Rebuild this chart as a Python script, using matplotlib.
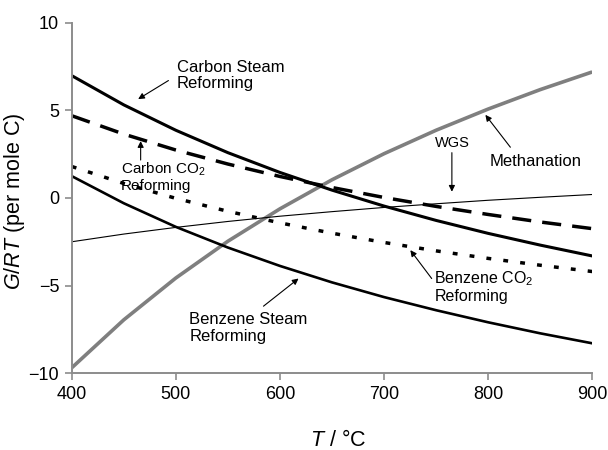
import numpy as np
import matplotlib
matplotlib.use('Agg')
import matplotlib.pyplot as plt

plt.rcParams['font.family'] = ['Liberation Sans', 'DejaVu Sans']
plt.rcParams['mathtext.fontset'] = 'custom'
plt.rcParams['mathtext.rm'] = 'Liberation Sans'
plt.rcParams['mathtext.it'] = 'Liberation Sans:italic'

# temperature in deg C
temps = [400, 450, 500, 550, 600, 650, 700, 750, 800, 850, 900]

# G/RT (per mole C)
carbon_steam = [6.99, 5.32, 3.87, 2.59, 1.46, 0.45, -0.46, -1.28, -2.02, -2.69, -3.31]
carbon_co2 = [4.70, 3.65, 2.74, 1.94, 1.23, 0.60, 0.03, -0.48, -0.94, -1.37, -1.75]
benzene_co2 = [1.80, 0.83, -0.02, -0.76, -1.42, -2.01, -2.54, -3.02, -3.45, -3.84, -4.20]
benzene_steam = [1.25, -0.30, -1.65, -2.83, -3.88, -4.82, -5.66, -6.41, -7.10, -7.73, -8.30]
wgs = [-2.50, -2.06, -1.68, -1.34, -1.04, -0.78, -0.54, -0.33, -0.13, 0.04, 0.20]
methanation = [-9.70, -6.96, -4.57, -2.47, -0.62, 1.04, 2.53, 3.87, 5.08, 6.19, 7.20]

fig = plt.figure(figsize=(6.08, 4.5), dpi=100)
ax = fig.add_axes([0.118, 0.171, 0.856, 0.778])

ax.plot(temps, methanation, color='#7f7f7f', lw=2.6, solid_capstyle='butt')
ax.plot(temps, wgs, color='black', lw=0.8)
ax.plot(temps, carbon_steam, color='black', lw=2.2)
ax.plot(temps, benzene_steam, color='black', lw=1.9)
ax.plot(temps, carbon_co2, color='black', lw=2.5, dashes=(5.5, 3.2))
ax.plot(temps, benzene_co2, color='black', lw=2.5, dashes=(1.4, 3.5), dash_capstyle='butt')

arrow = dict(arrowstyle='-|>', color='black', lw=0.8, mutation_scale=9, shrinkA=0, shrinkB=0)

ax.text(501, 7.0, 'Carbon Steam\nReforming', fontsize=12, ha='left', va='center', linespacing=1.15)
ax.annotate('', xy=(463.8, 5.65), xytext=(492.9, 6.71), arrowprops=arrow)

ax.text(447, 1.2, 'Carbon CO$_2$\nReforming', fontsize=11, ha='left', va='center', linespacing=1.1)
ax.annotate('', xy=(466.2, 3.25), xytext=(466.2, 2.17), arrowprops=arrow)

ax.text(765.5, 3.13, 'WGS', fontsize=10.5, ha='center', va='center')
ax.annotate('', xy=(765.2, 0.36), xytext=(765.2, 2.59), arrowprops=arrow)

ax.text(801, 2.08, 'Methanation', fontsize=12, ha='left', va='center')
ax.annotate('', xy=(797.4, 4.75), xytext=(821.4, 2.9), arrowprops=arrow)

ax.text(748.4, -5.08, 'Benzene CO$_2$\nReforming', fontsize=11.5, ha='left', va='center', linespacing=1.05)
ax.annotate('', xy=(725.3, -2.98), xytext=(745.8, -4.6), arrowprops=arrow)

ax.text(512.8, -7.41, 'Benzene Steam\nReforming', fontsize=12, ha='left', va='center', linespacing=1.15)
ax.annotate('', xy=(617.9, -4.6), xytext=(584.2, -6.18), arrowprops=arrow)

ax.set_xlim(400, 900)
ax.set_ylim(-10, 10)
ax.set_xticks([400, 500, 600, 700, 800, 900])
ax.set_yticks([-10, -5, 0, 5, 10])
for side in ['top', 'right']:
    ax.spines[side].set_visible(False)
for side in ['left', 'bottom']:
    ax.spines[side].set_color('#8c8c8c')
    ax.spines[side].set_linewidth(1.4)
ax.tick_params(direction='out', length=5, width=1.2, color='#8c8c8c', labelsize=13, pad=4)

ax.set_xlabel('$T$ / °C', fontsize=15.5)
ax.set_ylabel('$G/RT$ (per mole C)', fontsize=15.5)
ax.xaxis.set_label_coords(0.511, -0.162)
ax.yaxis.set_label_coords(-0.086, 0.491)

fig.savefig('out.png', dpi=100)
